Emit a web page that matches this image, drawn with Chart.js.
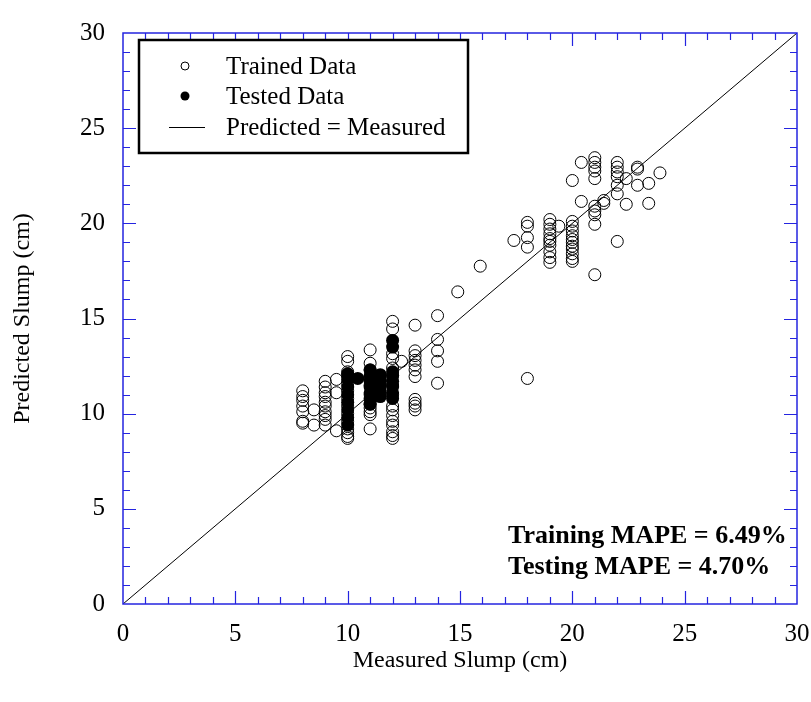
<!DOCTYPE html>
<html>
<head>
<meta charset="utf-8">
<script src="https://cdn.jsdelivr.net/npm/chart.js@4/dist/chart.umd.min.js"></script>
<style>
  html, body { margin: 0; padding: 0; background: #fff; }
</style>
</head>
<body>
<canvas id="chart" width="811" height="702"></canvas>
<script>
// Trained data (open circles)
const trainedX = [
  8, 8, 8, 8, 8, 8, 8,
  8.5, 8.5,
  9, 9, 9, 9, 9, 9, 9, 9, 9, 9,
  9.5, 9.5, 9.5,
  10, 10, 10, 10, 10, 10, 10, 10, 10, 10, 10, 10, 10, 10,
  11, 11, 11, 11, 11, 11, 11, 11, 11, 11, 11,
  12, 12, 12, 12, 12, 12, 12, 12, 12, 12, 12, 12, 12, 12, 12, 12,
  12.4,
  13, 13, 13, 13, 13, 13, 13, 13, 13, 13, 13,
  14, 14, 14, 14, 14,
  14.9, 15.9, 17.4,
  18, 18, 18, 18, 18,
  19, 19, 19, 19, 19, 19, 19, 19, 19, 19,
  19.4,
  20, 20, 20, 20, 20, 20, 20, 20, 20, 20, 20, 20,
  20.4, 20.4,
  21, 21, 21, 21, 21, 21, 21, 21, 21, 21,
  21.4, 21.4,
  22, 22, 22, 22, 22, 22, 22,
  22.4, 22.4,
  22.9, 22.9, 22.9,
  23.4, 23.4,
  23.9
];
const trainedY = [
  11.2, 10.9, 10.7, 10.4, 10.1, 9.6, 9.5,
  10.2, 9.4,
  11.7, 11.4, 11.1, 10.9, 10.6, 10.4, 10.1, 9.9, 9.7, 9.4,
  11.8, 11.1, 9.1,
  13.0, 12.75, 12.2, 12.0, 11.6, 11.2, 10.8, 10.4, 10.0, 9.6, 9.2, 9.0, 8.8, 8.7,
  13.35, 12.65, 12.3, 11.9, 11.5, 11.0, 10.5, 10.3, 10.1, 9.95, 9.2,
  14.85, 14.45, 13.15, 12.9, 12.4, 12.0, 11.5, 11.0, 10.4, 10.2, 9.9, 9.6, 9.4, 9.05, 8.85, 8.7,
  12.75,
  14.65, 13.3, 13.05, 12.8, 12.55, 12.3, 11.95, 10.75, 10.55, 10.4, 10.2,
  15.15, 13.9, 13.3, 12.75, 11.6,
  16.4, 17.75, 19.1,
  20.05, 19.85, 19.25, 18.75, 11.85,
  20.2, 19.95, 19.7, 19.45, 19.2, 19.05, 18.85, 18.5, 18.2, 17.95,
  19.85,
  20.1, 19.85, 19.6, 19.35, 19.15, 19.0, 18.8, 18.65, 18.4, 18.15, 18.0, 22.25,
  23.2, 21.15,
  23.45, 23.2, 22.95, 22.75, 22.35, 20.9, 20.65, 20.45, 19.95, 17.3,
  21.2, 21.05,
  23.2, 22.95, 22.7, 22.45, 22.0, 21.55, 19.05,
  22.35, 21.0,
  22.95, 22.85, 22.0,
  22.1, 21.05,
  22.65
];

// Tested data (filled circles)
const testedX = [
  10, 10, 10, 10, 10, 10, 10, 10,
  10.45,
  11, 11, 11, 11, 11, 11, 11,
  11.45, 11.45, 11.45, 11.45, 11.45,
  12, 12, 12, 12, 12, 12, 12, 12
];
const testedY = [
  9.4, 9.8, 10.2, 10.6, 11.0, 11.4, 11.8, 12.1,
  11.85,
  10.5, 10.8, 11.1, 11.4, 11.7, 12.0, 12.3,
  10.9, 11.2, 11.5, 11.8, 12.05,
  10.8, 11.1, 11.4, 11.7, 12.0, 12.2, 13.5, 13.85
];

// Predicted = Measured line
const lineX = [0, 30];
const lineY = [0, 30];

const legendLabels = ["Trained Data", "Tested Data", "Predicted = Measured"];
const notes = ["Training MAPE = 6.49%", "Testing MAPE = 4.70%"];

const serif = '"Times New Roman", "Liberation Serif", serif';
const axisBlue = "#2424e0";

const toPoints = (xs, ys) => xs.map((x, i) => ({ x, y: ys[i] }));

// Draws the blue frame with inward ticks on all four sides, plus legend and notes
const framePlugin = {
  id: "frame",
  afterDraw(chart) {
    const { ctx, chartArea: a, scales } = chart;
    const sx = scales.x, sy = scales.y;
    ctx.save();
    ctx.strokeStyle = axisBlue;
    ctx.lineWidth = 1.5;
    ctx.strokeRect(a.left, a.top, a.right - a.left, a.bottom - a.top);
    ctx.lineWidth = 1.2;
    ctx.beginPath();
    for (let v = 1; v < 30; v++) {
      const len = v % 5 === 0 ? 13 : 7;
      const px = Math.round(sx.getPixelForValue(v)) + 0.5;
      const py = Math.round(sy.getPixelForValue(v)) + 0.5;
      ctx.moveTo(px, a.bottom); ctx.lineTo(px, a.bottom - len);
      ctx.moveTo(px, a.top); ctx.lineTo(px, a.top + len);
      ctx.moveTo(a.left, py); ctx.lineTo(a.left + len, py);
      ctx.moveTo(a.right, py); ctx.lineTo(a.right - len, py);
    }
    ctx.stroke();

    // legend box
    ctx.strokeStyle = "#000";
    ctx.lineWidth = 2.5;
    ctx.fillStyle = "#fff";
    ctx.fillRect(139, 40, 329, 113);
    ctx.strokeRect(139, 40, 329, 113);

    ctx.lineWidth = 1;
    ctx.beginPath();
    ctx.arc(185, 66, 4, 0, Math.PI * 2);
    ctx.stroke();
    ctx.fillStyle = "#000";
    ctx.beginPath();
    ctx.arc(185, 96, 4.5, 0, Math.PI * 2);
    ctx.fill();
    ctx.beginPath();
    ctx.moveTo(169, 127.5); ctx.lineTo(205, 127.5);
    ctx.stroke();

    ctx.font = "25px " + serif;
    ctx.textAlign = "left";
    ctx.textBaseline = "alphabetic";
    ctx.fillText(legendLabels[0], 226, 74);
    ctx.fillText(legendLabels[1], 226, 104);
    ctx.fillText(legendLabels[2], 226, 135);

    // MAPE notes
    ctx.font = "bold 26px " + serif;
    ctx.fillText(notes[0], 508, 543);
    ctx.fillText(notes[1], 508, 574);
    ctx.restore();
  }
};

new Chart(document.getElementById("chart"), {
  type: "scatter",
  data: {
    datasets: [
      {
        label: legendLabels[0],
        data: toPoints(trainedX, trainedY),
        pointRadius: 6,
        pointBorderWidth: 1,
        borderColor: "#000",
        backgroundColor: "rgba(0,0,0,0)",
        order: 2
      },
      {
        label: legendLabels[1],
        data: toPoints(testedX, testedY),
        pointRadius: 6.5,
        pointBorderWidth: 0,
        borderColor: "#000",
        backgroundColor: "#000",
        order: 1
      },
      {
        type: "line",
        label: legendLabels[2],
        data: toPoints(lineX, lineY),
        borderColor: "#000",
        borderWidth: 1,
        pointRadius: 0,
        fill: false,
        order: 3
      }
    ]
  },
  options: {
    responsive: false,
    animation: false,
    layout: { padding: { top: 25, right: 0, left: 0, bottom: 0 } },
    plugins: {
      legend: { display: false },
      tooltip: { enabled: false }
    },
    scales: {
      x: {
        type: "linear",
        min: 0,
        max: 30,
        grid: { display: false, drawTicks: false },
        border: { display: false },
        ticks: {
          stepSize: 5,
          color: "#000",
          padding: 15,
          maxRotation: 0,
          font: { family: serif, size: 25 }
        },
        title: {
          display: true,
          text: "Measured Slump (cm)",
          color: "#000",
          font: { family: serif, size: 24 },
          padding: { top: 0, bottom: 27 }
        },
        afterFit(scale) {
          scale.height = 98;
          scale.paddingLeft = 0;
          scale.paddingRight = 14;
        }
      },
      y: {
        type: "linear",
        min: 0,
        max: 30,
        grid: { display: false, drawTicks: false },
        border: { display: false },
        ticks: {
          stepSize: 5,
          color: "#000",
          padding: 18,
          font: { family: serif, size: 25 }
        },
        title: {
          display: true,
          text: "Predicted Slump (cm)",
          color: "#000",
          font: { family: serif, size: 24 },
          padding: { top: 8.6, bottom: 0 }
        },
        afterFit(scale) { scale.width = 123; }
      }
    }
  },
  plugins: [framePlugin]
});
</script>
</body>
</html>
